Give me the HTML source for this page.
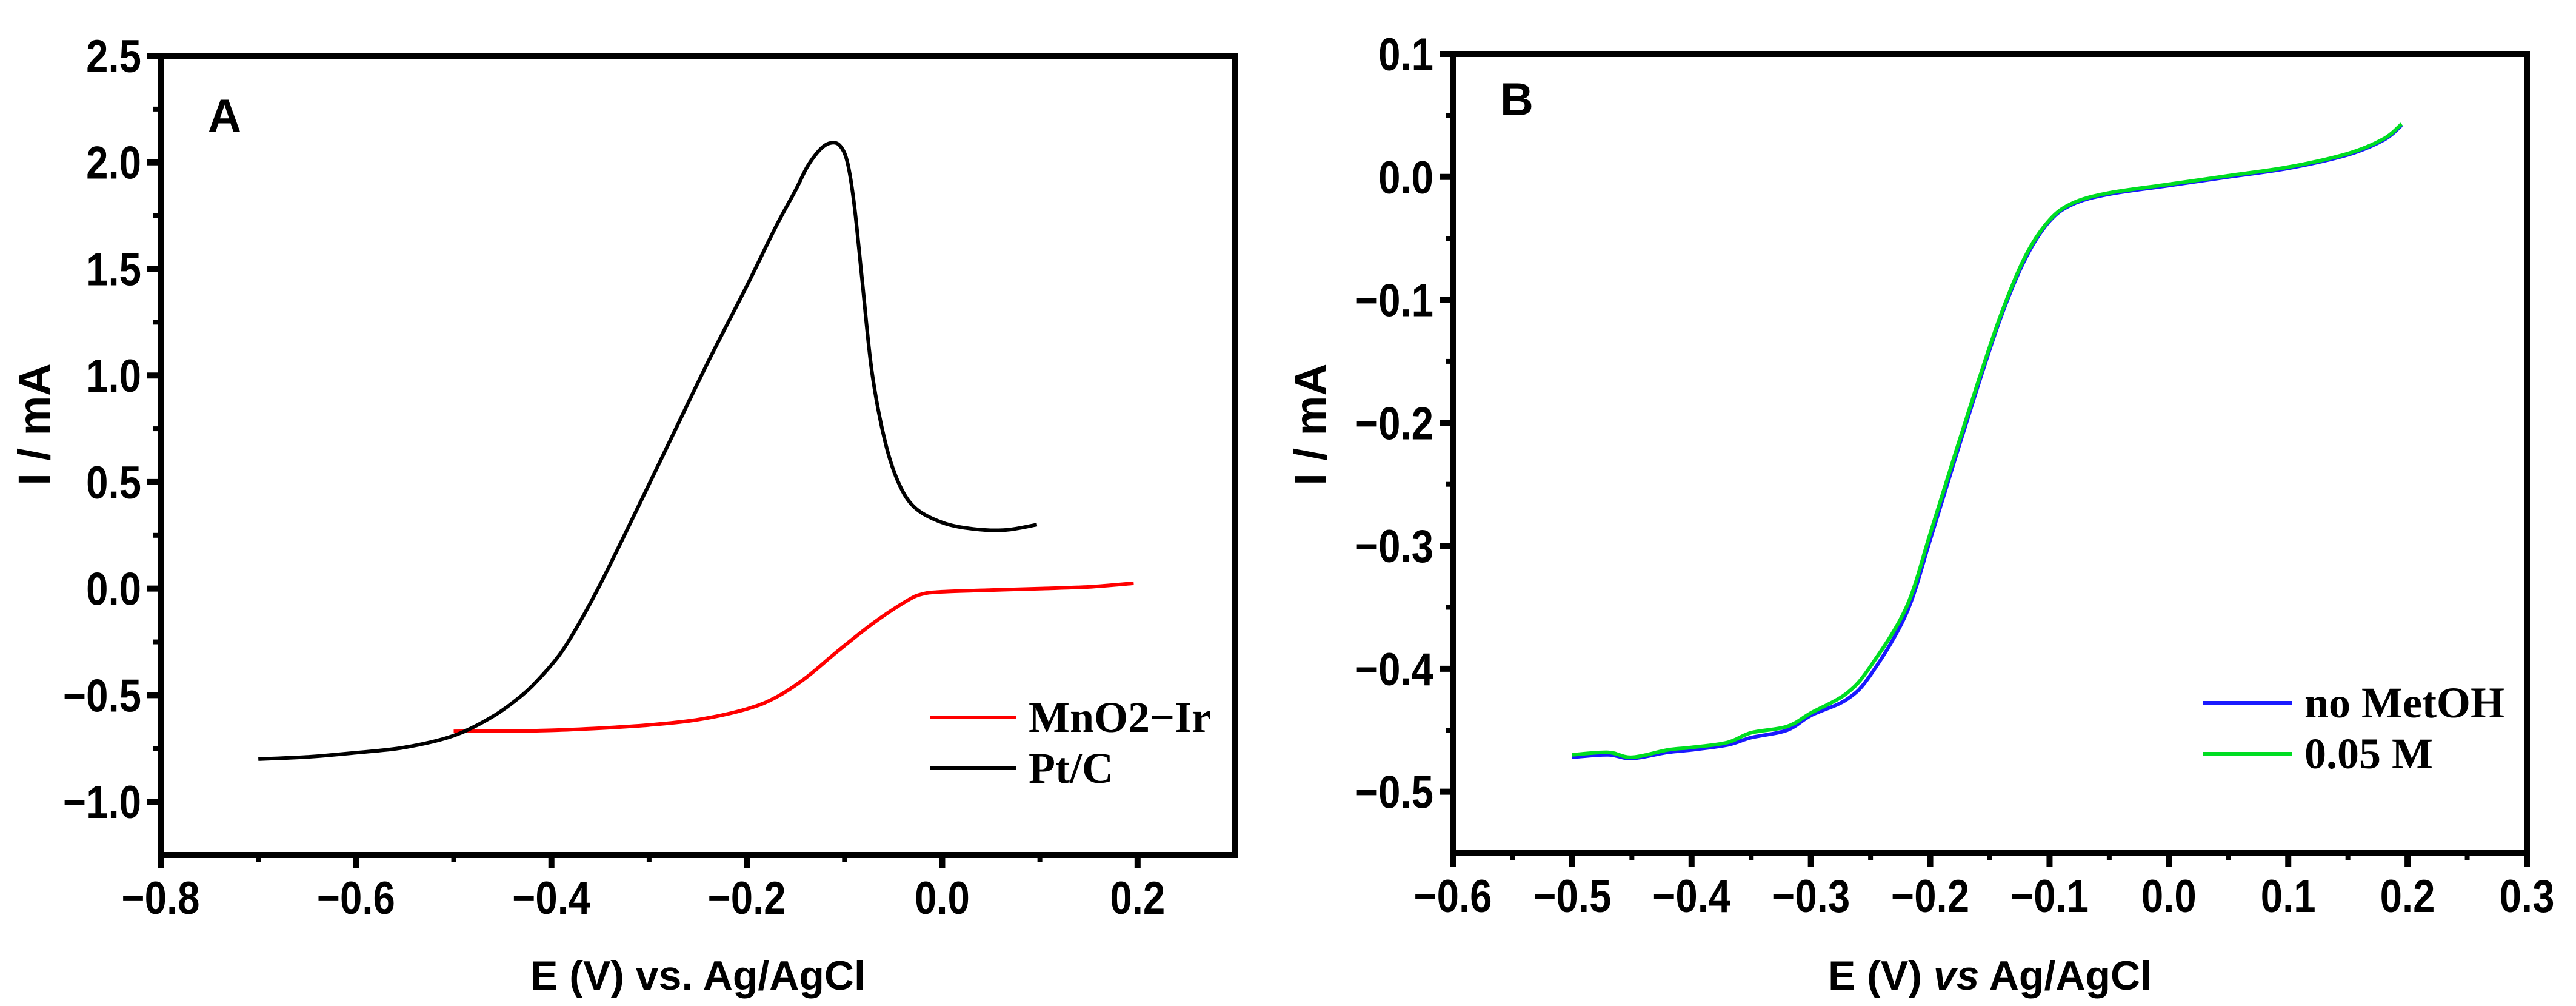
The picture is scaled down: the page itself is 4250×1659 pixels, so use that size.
<!DOCTYPE html>
<html><head><meta charset="utf-8"><style>
html,body{margin:0;padding:0;background:#fff;}
svg{display:block;}
</style></head><body>
<svg id="fig" width="4250" height="1659" viewBox="0 0 4250 1659" xmlns="http://www.w3.org/2000/svg"></svg>
<script>
// Panel A data
const aPtX = [-0.70,-0.65,-0.60,-0.55,-0.50,-0.46,-0.43,-0.41,-0.39,-0.37,-0.35,-0.32,-0.28,-0.24,-0.20,-0.17,-0.15,-0.138,-0.125,-0.115,-0.105,-0.097,-0.090,-0.082,-0.072,-0.059,-0.045,-0.028,0.0,0.032,0.065,0.097];
const aPtY = [-0.80,-0.79,-0.77,-0.745,-0.69,-0.60,-0.50,-0.41,-0.30,-0.15,0.02,0.30,0.68,1.06,1.42,1.70,1.87,1.98,2.06,2.09,2.08,2.00,1.80,1.45,1.02,0.70,0.50,0.38,0.31,0.28,0.275,0.30];
const aMnX = [-0.50,-0.45,-0.40,-0.35,-0.30,-0.25,-0.20,-0.17,-0.14,-0.106,-0.07,-0.036,-0.02,0.0,0.05,0.10,0.15,0.196];
const aMnY = [-0.67,-0.668,-0.665,-0.655,-0.64,-0.615,-0.565,-0.51,-0.42,-0.29,-0.16,-0.057,-0.025,-0.015,-0.007,0.0,0.008,0.025];
const aXTicks = [-0.8,-0.6,-0.4,-0.2,0.0,0.2];
const aXLabels = ["\u22120.8","\u22120.6","\u22120.4","\u22120.2","0.0","0.2"];
const aYTicks = [2.5,2.0,1.5,1.0,0.5,0.0,-0.5,-1.0];
const aYLabels = ["2.5","2.0","1.5","1.0","0.5","0.0","\u22120.5","\u22121.0"];
// Panel B data
const bX = [-0.50,-0.47,-0.45,-0.42,-0.40,-0.37,-0.35,-0.32,-0.30,-0.27,-0.25,-0.22,-0.20,-0.18,-0.16,-0.14,-0.12,-0.10,-0.08,-0.05,0.0,0.05,0.10,0.15,0.18,0.195];
const bBlue = [-0.472,-0.470,-0.473,-0.468,-0.466,-0.462,-0.456,-0.450,-0.438,-0.425,-0.405,-0.355,-0.295,-0.232,-0.170,-0.112,-0.066,-0.036,-0.022,-0.014,-0.007,0.000,0.007,0.018,0.030,0.042];
const bGreen = [-0.470,-0.468,-0.472,-0.466,-0.464,-0.460,-0.452,-0.447,-0.436,-0.420,-0.398,-0.350,-0.290,-0.228,-0.167,-0.110,-0.064,-0.035,-0.021,-0.013,-0.006,0.001,0.008,0.019,0.031,0.043];
const bXTicks = [-0.6,-0.5,-0.4,-0.3,-0.2,-0.1,0.0,0.1,0.2,0.3];
const bXLabels = ["\u22120.6","\u22120.5","\u22120.4","\u22120.3","\u22120.2","\u22120.1","0.0","0.1","0.2","0.3"];
const bYTicks = [0.1,0.0,-0.1,-0.2,-0.3,-0.4,-0.5];
const bYLabels = ["0.1","0.0","\u22120.1","\u22120.2","\u22120.3","\u22120.4","\u22120.5"];

const NS="http://www.w3.org/2000/svg";
const svg=document.getElementById('fig');
const SANS='font-family:"Liberation Sans",sans-serif;';
const SERIF='font-family:"Liberation Serif",serif;';
function el(tag,attrs,parent){const e=document.createElementNS(NS,tag);for(const k in attrs)e.setAttribute(k,attrs[k]);(parent||svg).appendChild(e);return e;}
function smooth(pts){let d='M'+pts[0][0].toFixed(1)+','+pts[0][1].toFixed(1);
 for(let i=0;i<pts.length-1;i++){const p0=pts[Math.max(0,i-1)],p1=pts[i],p2=pts[i+1],p3=pts[Math.min(pts.length-1,i+2)];
  const c1x=p1[0]+(p2[0]-p0[0])/6,c1y=p1[1]+(p2[1]-p0[1])/6,c2x=p2[0]-(p3[0]-p1[0])/6,c2y=p2[1]-(p3[1]-p1[1])/6;
  d+=' C'+c1x.toFixed(1)+','+c1y.toFixed(1)+' '+c2x.toFixed(1)+','+c2y.toFixed(1)+' '+p2[0].toFixed(1)+','+p2[1].toFixed(1);}
 return d;}

function panel(cfg){
 const g=el('g',{});
 
 
 const sx=v=>cfg.L+(v-cfg.x0)/(cfg.x1-cfg.x0)*(cfg.R-cfg.L);
 const sy=v=>cfg.B-(v-cfg.y0)/(cfg.y1-cfg.y0)*(cfg.B-cfg.T);
 cfg.series.forEach(s=>{
  const pts=s.x.map((v,i)=>[sx(v),sy(s.y[i])]);
  const p=el('path',{d:smooth(pts),fill:'none',stroke:s.color,'stroke-width':6,'stroke-linejoin':'round'},g);
  
  
 });
 const fr=el('rect',{x:cfg.L,y:cfg.T,width:cfg.R-cfg.L,height:cfg.B-cfg.T,fill:'none',stroke:'#000','stroke-width':10},g);
 
 
 cfg.xt.forEach((v,i)=>{
  const x=sx(v);
  el('line',{x1:x,y1:cfg.B,x2:x,y2:cfg.B+22,stroke:'#000','stroke-width':10},g);
  if(i<cfg.xt.length-1){const xm=sx((v+cfg.xt[i+1])/2);el('line',{x1:xm,y1:cfg.B,x2:xm,y2:cfg.B+12,stroke:'#000','stroke-width':8},g);}
  const t=el('text',{x:x,y:cfg.B+97,'font-size':76,'font-weight':'bold','text-anchor':'middle',style:SANS,transform:`translate(${x},0) scale(0.86,1) translate(${-x},0)`},g);
  t.textContent=cfg.xl[i];
  
  
 });
 cfg.yt.forEach((v,i)=>{
  const y=sy(v);
  el('line',{x1:cfg.L,y1:y,x2:cfg.L-22,y2:y,stroke:'#000','stroke-width':10},g);
  if(i<cfg.yt.length-1){const ym=sy((v+cfg.yt[i+1])/2);el('line',{x1:cfg.L,y1:ym,x2:cfg.L-12,y2:ym,stroke:'#000','stroke-width':8},g);}
  const xr=cfg.L-32;
  const t=el('text',{x:xr,y:y+27,'font-size':76,'font-weight':'bold','text-anchor':'end',style:SANS,transform:`translate(${xr},0) scale(0.86,1) translate(${-xr},0)`},g);
  t.textContent=cfg.yl[i];
  
  
 });
 const yLastM=sy(cfg.yt[cfg.yt.length-1]-(cfg.yt[0]-cfg.yt[1])/2);
 if(yLastM<cfg.B-5) el('line',{x1:cfg.L,y1:yLastM,x2:cfg.L-12,y2:yLastM,stroke:'#000','stroke-width':8},g);
 const pl=el('text',{x:cfg.letterX,y:cfg.letterY,'font-size':76,'font-weight':'bold',style:SANS},g);
 pl.textContent=cfg.letter;
 
 
 const yt=el('text',{x:0,y:0,'font-size':74,'font-weight':'bold','text-anchor':'middle',style:SANS,transform:`translate(${cfg.yTitleX},700) rotate(-90)`},g);
 yt.textContent='I / mA';
 
 
 const xt=el('text',{x:(cfg.L+cfg.R)/2,y:1632,'font-size':68,'font-weight':'bold','text-anchor':'middle',style:SANS},g);
 xt.innerHTML=cfg.xTitle;
 
 
 cfg.series.forEach((s,i)=>{
  const ly=cfg.legY+i*84;
  const ln=el('line',{x1:cfg.legX1,y1:ly,x2:cfg.legX2,y2:ly,stroke:s.color,'stroke-width':6},g);
  
  
  const t=el('text',{x:cfg.legX2+20,y:ly+24,'font-size':72,'font-weight':'bold',style:SERIF},g);
  t.textContent=s.label;
  
  
 });
}

panel({name:'panel-a',L:265,R:2038,T:92,B:1410,x0:-0.8,x1:0.3,y0:-1.25,y1:2.5,
 xt:aXTicks,xl:aXLabels,yt:aYTicks,yl:aYLabels,letter:'A',letterX:343,letterY:217,yTitleX:82,
 xTitle:'E (V) vs. Ag/AgCl',legX1:1535,legX2:1677,legY:1183,
 series:[{id:'mno2-ir',label:'MnO2\u2212Ir',color:'#ff0000',x:aMnX,y:aMnY},{id:'pt-c',label:'Pt/C',color:'#000000',x:aPtX,y:aPtY}]});
panel({name:'panel-b',L:2397,R:4169,T:89,B:1407,x0:-0.6,x1:0.3,y0:-0.55,y1:0.1,
 xt:bXTicks,xl:bXLabels,yt:bYTicks,yl:bYLabels,letter:'B',letterX:2475,letterY:190,yTitleX:2188,
 xTitle:'E (V) <tspan font-style="italic">vs</tspan> Ag/AgCl',legX1:3634,legX2:3782,legY:1159,
 series:[{id:'no-metoh',label:'no MetOH',color:'#1a1aff',x:bX,y:bBlue},{id:'metoh-0-05m',label:'0.05 M',color:'#00dd22',x:bX,y:bGreen}]});
</script>
</body></html>
